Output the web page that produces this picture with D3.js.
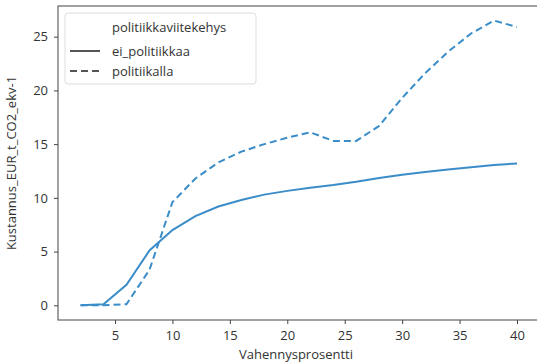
<!DOCTYPE html>
<html>
<head>
<meta charset="utf-8">
<script src="https://cdn.jsdelivr.net/npm/d3@7"></script>
<style>
  body { margin: 0; background: #fff; }
  svg text { font-family: "Open Sans", "DejaVu Sans", sans-serif; fill: #333; }
</style>
</head>
<body>
<div id="chart"></div>
<script>
const percents = [2, 4, 6, 8, 10, 12, 14, 16, 18, 20, 22, 24, 26, 28, 30, 32, 34, 36, 38, 40];
const eiPolitiikkaa = [0, 0.1, 1.9, 5.1, 7.0, 8.3, 9.2, 9.8, 10.3, 10.65, 10.95, 11.2, 11.5, 11.85, 12.15, 12.4, 12.65, 12.85, 13.05, 13.2];
const politiikalla = [0, 0, 0.1, 3.3, 9.6, 11.8, 13.3, 14.3, 15.0, 15.6, 16.1, 15.3, 15.3, 16.7, 19.3, 21.6, 23.6, 25.3, 26.5, 25.9];
const xTicks = [5, 10, 15, 20, 25, 30, 35, 40];
const yTicks = [0, 5, 10, 15, 20, 25];

const width = 537, height = 364;
const margin = {top: 6, right: -3, bottom: 44, left: 58};
const color = "#3a8dc8";

const svg = d3.select("#chart").append("svg")
  .attr("width", width)
  .attr("height", height);

// x 5 -> 115, 40 -> 517 ; y 0 -> 305.3, 25 -> 36.7
const x = d3.scaleLinear().domain([5, 40]).range([115, 517]);
const y = d3.scaleLinear().domain([0, 25]).range([305.3, 36.7]);

const plotLeft = margin.left, plotRight = width - margin.right;
const plotTop = margin.top, plotBottom = height - margin.bottom;

const xAxis = svg.append("g")
  .attr("transform", `translate(0,${plotBottom})`)
  .call(d3.axisBottom(x).tickValues(xTicks).tickSize(4).tickPadding(7));
const yAxis = svg.append("g")
  .attr("transform", `translate(${plotLeft},0)`)
  .call(d3.axisLeft(y).tickValues(yTicks).tickSize(4).tickPadding(6));

[xAxis, yAxis].forEach(a => {
  a.select(".domain").remove();
  a.selectAll(".tick line").attr("stroke", "#444");
  a.selectAll(".tick text").style("font-size", "13px").attr("fill", "#333");
});

// frame
svg.append("rect")
  .attr("x", plotLeft)
  .attr("y", plotTop)
  .attr("width", plotRight - plotLeft)
  .attr("height", plotBottom - plotTop)
  .attr("fill", "none")
  .attr("stroke", "#444")
  .attr("stroke-width", 1);

const line = d3.line()
  .x((d, i) => x(percents[i]))
  .y(d => y(d));

svg.append("path")
  .datum(eiPolitiikkaa)
  .attr("d", line)
  .attr("fill", "none")
  .attr("stroke", color)
  .attr("stroke-width", 2);

svg.append("path")
  .datum(politiikalla)
  .attr("d", line)
  .attr("fill", "none")
  .attr("stroke", color)
  .attr("stroke-width", 2)
  .attr("stroke-dasharray", "7,4");

// axis labels
svg.append("text")
  .attr("x", (115 + 517) / 2 - 20)
  .attr("y", 359)
  .attr("text-anchor", "middle")
  .style("font-size", "13px")
  .text("Vahennysprosentti");

svg.append("text")
  .attr("transform", `translate(16,${(plotTop + plotBottom) / 2}) rotate(-90)`)
  .attr("text-anchor", "middle")
  .style("font-size", "13px")
  .text("Kustannus_EUR_t_CO2_ekv-1");

// legend
const legend = svg.append("g");
legend.append("rect")
  .attr("x", 65).attr("y", 13)
  .attr("width", 191).attr("height", 71)
  .attr("rx", 3)
  .attr("fill", "#fff")
  .attr("stroke", "#ddd");

legend.append("text")
  .attr("x", 112).attr("y", 32)
  .style("font-size", "13px")
  .text("politiikkaviitekehys");

const entries = [
  {label: "ei_politiikkaa", dash: null},
  {label: "politiikalla", dash: "7,4"}
];
entries.forEach((e, i) => {
  const yy = 51 + i * 20;
  legend.append("line")
    .attr("x1", 70).attr("x2", 100)
    .attr("y1", yy).attr("y2", yy)
    .attr("stroke", "#555")
    .attr("stroke-width", 2)
    .attr("stroke-dasharray", e.dash);
  legend.append("text")
    .attr("x", 112).attr("y", yy + 5)
    .style("font-size", "13px")
    .text(e.label);
});
</script>
</body>
</html>
